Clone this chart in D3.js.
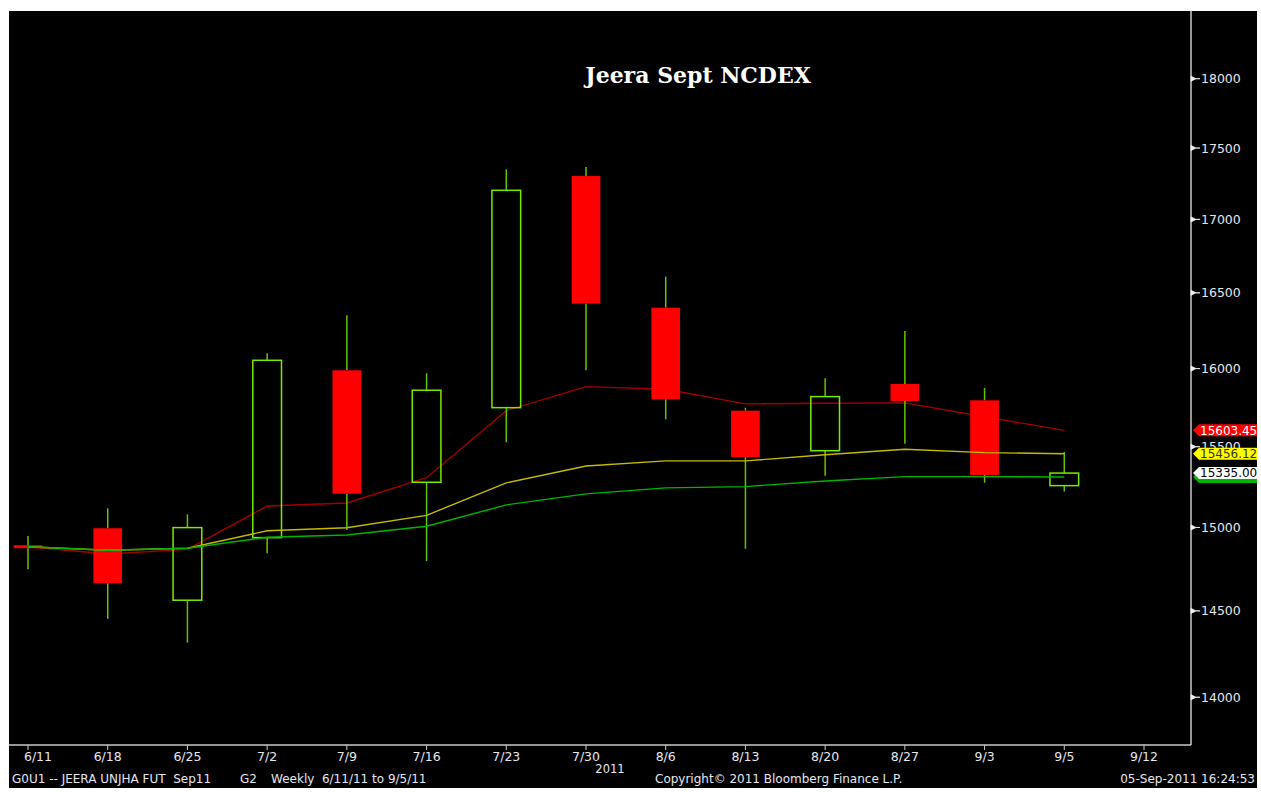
<!DOCTYPE html>
<html>
<head>
<meta charset="utf-8">
<script src="https://cdn.jsdelivr.net/npm/d3@7"></script>
<style>
  html, body { margin: 0; padding: 0; background: #ffffff; }
  svg { display: block; }
  text { white-space: pre; }
</style>
</head>
<body>
<div id="chart"></div>
<script>
// weekly bars, last one (9/5) is the current partial week
const weeks = ["6/11", "6/18", "6/25", "7/2", "7/9", "7/16", "7/23", "7/30", "8/6", "8/13", "8/20", "8/27", "9/3", "9/5", "9/12"];
const open  = [14883, 14995, 14563, 14938, 15989, 15278, 15748, 17302, 16401, 15729, 15475, 15900, 15795, 15257];
const high  = [14948, 15117, 15080, 16100, 16350, 15970, 17349, 17366, 16609, 15748, 15937, 16246, 15874, 15467];
const low   = [14747, 14453, 14314, 14844, 14985, 14797, 15528, 15990, 15674, 14871, 15319, 15519, 15275, 15220];
const close = [14883, 14664, 14999, 16054, 15207, 15860, 17202, 16428, 15802, 15434, 15819, 15791, 15323, 15335];

// moving averages
const maRed    = [14883, 14839, 14867, 15131, 15150, 15306, 15729, 15883, 15866, 15772, 15776, 15779, 15690, 15603.45];
const maYellow = [14883, 14862, 14874, 14980, 14998, 15074, 15274, 15379, 15411, 15411, 15450, 15484, 15463, 15456.12];
const maGreen  = [14883, 14862, 14874, 14940, 14954, 15007, 15138, 15206, 15243, 15251, 15286, 15313, 15313, 15311];

const yTicks = [14000, 14500, 15000, 15500, 16000, 16500, 17000, 17500, 18000];

const title = "Jeera Sept NCDEX";
const yearLabel = "2011";

let width = 1261;
let height = 792;
let frame = {left: 9, top: 11, right: 1257, bottom: 788};
let plot = {left: 9, top: 11, right: 1191, bottom: 745};
let axisFont = 12.5;

const svg = d3.select("#chart").append("svg")
    .attr("width", width)
    .attr("height", height);

svg.append("rect")
    .attr("x", frame.left)
    .attr("y", frame.top)
    .attr("width", frame.right - frame.left)
    .attr("height", frame.bottom - frame.top)
    .attr("fill", "#000000");

svg.append("clipPath").attr("id", "plotClip")
  .append("rect")
    .attr("x", plot.left)
    .attr("y", plot.top)
    .attr("width", plot.right - plot.left)
    .attr("height", plot.bottom - plot.top);

const x = d3.scalePoint()
    .domain(weeks)
    .range([28, 1144]);

const y = d3.scaleLog()
    .domain([13731, 18502])
    .range([plot.bottom, plot.top]);

let bodyW = x.step() * 0.36;

const bars = open.map((o, i) => ({
  week: weeks[i], o: o, h: high[i], l: low[i], c: close[i], up: close[i] > o
}));

const g = svg.append("g").attr("clip-path", "url(#plotClip)");

function maLine(values, color) {
  let line = d3.line()
      .x((d, i) => x(weeks[i]))
      .y(d => y(d));
  return g.append("path")
      .datum(values)
      .attr("fill", "none")
      .attr("stroke", color)
      .attr("stroke-width", 1.4)
      .attr("d", line);
}

// red average sits behind the candles
maLine(maRed, "#a00000");

// wicks: drawn outside the body only
g.append("g").selectAll("line.hi")
  .data(bars)
  .enter().append("line")
    .attr("x1", d => x(d.week))
    .attr("x2", d => x(d.week))
    .attr("y1", d => y(d.h))
    .attr("y2", d => y(Math.max(d.o, d.c)))
    .attr("stroke", "#62c400")
    .attr("stroke-width", 1.5);

g.append("g").selectAll("line.lo")
  .data(bars)
  .enter().append("line")
    .attr("x1", d => x(d.week))
    .attr("x2", d => x(d.week))
    .attr("y1", d => y(Math.min(d.o, d.c)))
    .attr("y2", d => y(d.l))
    .attr("stroke", "#62c400")
    .attr("stroke-width", 1.5);

g.append("g").selectAll("rect")
  .data(bars)
  .enter().append("rect")
    .attr("x", d => x(d.week) - bodyW / 2)
    .attr("width", bodyW)
    .attr("y", d => y(Math.max(d.o, d.c)) - (d.o == d.c ? 1.5 : 0))
    .attr("height", d => Math.max(3, Math.abs(y(d.o) - y(d.c))))
    .attr("fill", d => d.up ? "none" : "#ff0000")
    .attr("stroke", d => d.up ? "#76ec00" : "none")
    .attr("stroke-width", 1.5);

maLine(maYellow, "#c2bb00");
maLine(maGreen, "#00b400");

// axes frame
svg.append("line")
    .attr("x1", plot.right).attr("x2", plot.right)
    .attr("y1", plot.top).attr("y2", plot.bottom)
    .attr("stroke", "#c8c8c8")
    .attr("stroke-width", 1.5);
svg.append("line")
    .attr("x1", plot.left).attr("x2", plot.right)
    .attr("y1", plot.bottom).attr("y2", plot.bottom)
    .attr("stroke", "#c8c8c8")
    .attr("stroke-width", 1.5);

// right axis
const yAxis = svg.append("g");
yTicks.forEach(v => {
  let ty = y(v);
  yAxis.append("path")
      .attr("d", `M${plot.right},${ty - 2.5}L${plot.right + 5},${ty}L${plot.right + 9},${ty}L${plot.right + 5},${ty}L${plot.right},${ty + 2.5}Z`)
      .attr("fill", "#f0f0f0")
      .attr("stroke", "#f0f0f0")
      .attr("stroke-width", 0.8);
  yAxis.append("text")
      .attr("x", plot.right + 10)
      .attr("y", ty)
      .attr("dy", "0.36em")
      .attr("font-family", "DejaVu Sans")
      .attr("font-size", axisFont)
      .attr("fill", "#e6e6ee")
      .text(v);
});

// bottom axis
const xAxis = svg.append("g");
weeks.forEach((w, i) => {
  let tx = x(w);
  xAxis.append("line")
      .attr("x1", tx).attr("x2", tx)
      .attr("y1", plot.bottom).attr("y2", plot.bottom + 5)
      .attr("stroke", "#c8c8c8")
      .attr("stroke-width", 1);
  xAxis.append("text")
      .attr("x", tx + (i == 0 ? 10 : 0))
      .attr("y", plot.bottom + 16)
      .attr("text-anchor", "middle")
      .attr("font-family", "DejaVu Sans")
      .attr("font-size", axisFont)
      .attr("fill", "#e6e6ee")
      .text(w);
});

svg.append("text")
    .attr("x", x("7/30") + 24)
    .attr("y", plot.bottom + 28)
    .attr("text-anchor", "middle")
    .attr("font-family", "DejaVu Sans")
    .attr("font-size", 11.5)
    .attr("fill", "#e6e6ee")
    .text(yearLabel);

// last value tags
const tags = [
  {value: maGreen[maGreen.length - 1], fill: "#00b400", text: "#003300", label: ""},
  {value: close[close.length - 1], fill: "#ffffff", text: "#000000", label: close[close.length - 1].toFixed(2)},
  {value: maYellow[maYellow.length - 1], fill: "#ffff00", text: "#333300", label: maYellow[maYellow.length - 1].toFixed(2)},
  {value: maRed[maRed.length - 1], fill: "#ff0000", text: "#ffffff", label: maRed[maRed.length - 1].toFixed(2)}
];

tags.forEach(t => {
  let ty = y(t.value);
  let tx = plot.right + 2;
  svg.append("path")
      .attr("d", `M${tx},${ty}L${tx + 6},${ty - 6}L${frame.right},${ty - 6}L${frame.right},${ty + 6}L${tx + 6},${ty + 6}Z`)
      .attr("fill", t.fill);
  if (t.label) {
    svg.append("text")
        .attr("x", tx + 7)
        .attr("y", ty)
        .attr("dy", "0.36em")
        .attr("font-family", "DejaVu Sans")
        .attr("font-size", 12)
        .attr("fill", t.text)
        .text(t.label);
  }
});

// title
svg.append("text")
    .attr("x", 698)
    .attr("y", 83)
    .attr("text-anchor", "middle")
    .attr("font-family", "DejaVu Serif")
    .attr("font-weight", "bold")
    .attr("font-size", 22)
    .attr("fill", "#ffffff")
    .text(title);

// footer
const footer = svg.append("g")
    .attr("font-family", "DejaVu Sans")
    .attr("font-size", 12)
    .attr("fill", "#e6e6ee");
footer.append("text").attr("x", 12).attr("y", 783).text("G0U1 -- JEERA UNJHA FUT  Sep11");
footer.append("text").attr("x", 240).attr("y", 783).text("G2");
footer.append("text").attr("x", 271).attr("y", 783).text("Weekly  6/11/11 to 9/5/11");
footer.append("text").attr("x", 655).attr("y", 783).text("Copyright\u00a9 2011 Bloomberg Finance L.P.");
footer.append("text").attr("x", 1255).attr("y", 783).attr("text-anchor", "end").text("05-Sep-2011 16:24:53");
</script>
</body>
</html>
